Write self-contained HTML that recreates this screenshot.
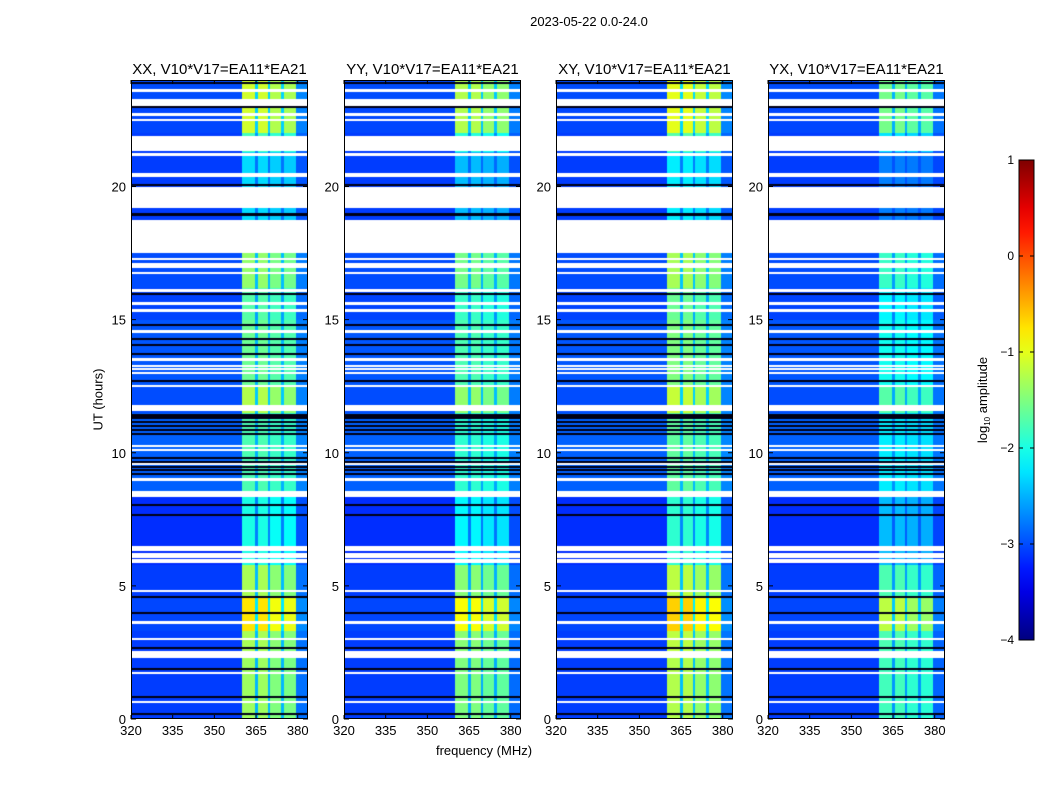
<!DOCTYPE html>
<html><head><meta charset="utf-8">
<style>
body{margin:0;background:#fff;width:1050px;height:800px;overflow:hidden;font-family:"Liberation Sans",sans-serif;}
#root{position:relative;width:1050px;height:800px;}
.t{position:absolute;color:#000;white-space:nowrap;}
canvas{position:absolute;}
</style></head>
<body><div id="root">
<div class="t" style="left:489px;top:14px;width:200px;text-align:center;font-size:13px;">2023-05-22 0.0-24.0</div>
<div class="t" style="left:48px;top:392px;width:100px;text-align:center;font-size:13px;transform:rotate(-90deg);">UT (hours)</div>
<div class="t" style="left:384px;top:743px;width:200px;text-align:center;font-size:13px;">frequency (MHz)</div>
<svg id="svg" width="1050" height="800" style="position:absolute;left:0;top:0"></svg>
</div>
<script>
// ---- data ----
const panelTitles = ["XX, V10*V17=EA11*EA21","YY, V10*V17=EA11*EA21","XY, V10*V17=EA11*EA21","YX, V10*V17=EA11*EA21"];
const panelOffsets = [0.0, -0.15, 0.1, -0.45];           // RFI level offset per polarization
const xTicks = [320,335,350,365,380];
const yTicks = [0,5,10,15,20];
const cbTicks = [1,0,-1,-2,-3,-4];
// RFI bands
const bandStarts = [360.0, 364.6, 365.7, 369.3, 370.0, 374.0, 375.0, 379.3];
const bandEnds   = [364.6, 365.7, 369.3, 370.0, 374.0, 375.0, 379.3, 384.0];
const bandWeights= [1.0,   0.35,  1.0,   0.35,  0.92,  0.35,  0.9,   0.15];
// time segments with RFI level and background level (log10 amp)
const segStarts = [0, 2.5, 3.3, 4.6, 5.8, 8.5, 11.5, 12.5, 15.0, 16.2, 17.5, 21.3, 22.0, 23.3];
const segEnds   = [2.5, 3.3, 4.6, 5.8, 8.5, 11.5, 12.5, 15.0, 16.2, 17.5, 21.3, 22.0, 23.3, 24];
const segRfi    = [-1.35,-1.3,-0.75,-1.3,-2.0,-1.75,-1.25,-1.6,-1.7,-1.4,-2.3,-1.8,-1.1,-1.1];
const segBg     = [-3.08,-3.08,-3.03,-3.08,-3.15,-2.9,-3.0,-2.95,-3.05,-3.0,-3.08,-3.08,-3.03,-3.0];
// flagged (white) time ranges in hours
const gapStarts = [23.0, 21.35, 19.2, 17.5, 11.55, 6.3, 5.85, 2.3];
const gapEnds   = [23.3, 21.9, 20.0, 18.75, 11.8, 6.5, 6.0, 2.55];
// thin white lines (hours)
const whiteLines = [23.6,22.7,22.5,21.2,20.45,20.4,17.27,17.1,17.0,16.75,16.1,15.6,15.35,14.55,13.5,13.25,13.15,13.0,12.5,10.25,10.1,9.6,9.0,8.5,8.4,6.2,6.1,4.8,3.63,3.0,1.72,0.64];
// dark (zero) lines (hours)
const blackLines = [23.9,23.0,20.07,18.95,15.95,14.8,14.27,14.05,13.7,12.7,11.4,11.3,11.15,11.0,10.85,10.7,9.8,9.65,9.45,9.35,9.2,8.05,7.65,4.57,3.97,2.66,1.87,0.82,0.19];
</script>
<script>
const svg=document.getElementById('svg'), root=document.getElementById('root');
const NS='http://www.w3.org/2000/svg';
const panelLefts=[131,344,556,768], PW=177, PT=80, PH=639, F0=320, F1=383.7;
function xs(f,l){return l+(f-F0)/(F1-F0)*PW;}
function ys(h){return PT+PH-(h/24)*PH;}
function jet(v){
  const r=Math.min(Math.max(Math.min(4*v-1.5,-4*v+4.5),0),1);
  const g=Math.min(Math.max(Math.min(4*v-0.5,-4*v+3.5),0),1);
  const b=Math.min(Math.max(Math.min(4*v+0.5,-4*v+2.5),0),1);
  return [r*255|0,g*255|0,b*255|0];
}
function norm(v){return Math.min(Math.max((v+4)/5,0),1);}
function el(tag,attrs,parent){const e=document.createElementNS(NS,tag);for(const k in attrs)e.setAttribute(k,attrs[k]);(parent||svg).appendChild(e);return e;}
function txt(s,x,y,anchor,size,parent){const e=el('text',{x:x,y:y,'text-anchor':anchor,'font-size':size,'font-family':'Liberation Sans, sans-serif'},parent);e.textContent=s;return e;}

panelLefts.forEach((L,p)=>{
  const c=document.createElement('canvas');c.width=PW;c.height=PH;
  c.style.left=L+'px';c.style.top=PT+'px';
  
  
  root.insertBefore(c,svg);
  const ctx=c.getContext('2d'), img=ctx.createImageData(PW,PH);
  for(let y=0;y<PH;y++){
    const h=(PH-y-0.5)/PH*24;
    let mode=0;
    for(let i=0;i<gapStarts.length;i++) if(h>=gapStarts[i]&&h<gapEnds[i]) mode=1;
    for(const w of whiteLines) if(Math.abs(h-w)<0.045) mode=1;
    for(const b of blackLines) if(Math.abs(h-b)<0.04) mode=2;
    let si=0; for(let i=0;i<segStarts.length;i++) if(h>=segStarts[i]&&h<segEnds[i]) si=i;
    const rfi=segRfi[si]+panelOffsets[p], bg=segBg[si];
    for(let x=0;x<PW;x++){
      const k=(y*PW+x)*4;
      let col;
      if(mode===1) col=[255,255,255];
      else if(mode===2) col=[0,0,20];
      else{
        const f=F0+(x+0.5)/PW*(F1-F0);
        let w=0; for(let i=0;i<bandStarts.length;i++) if(f>=bandStarts[i]&&f<bandEnds[i]) w=bandWeights[i];
        col=jet(norm(bg+w*(rfi-bg)));
      }
      img.data[k]=col[0];img.data[k+1]=col[1];img.data[k+2]=col[2];img.data[k+3]=255;
    }
  }
  ctx.putImageData(img,0,0);
  const g=el('g',{});
  
  
  el('rect',{x:L+0.5,y:PT+0.5,width:PW-1,height:PH-1,fill:'none',stroke:'#000','stroke-width':1},g);
  const t=txt(panelTitles[p],L+PW/2,74,'middle',15,g);
  
  
  xTicks.forEach(f=>{const x=xs(f,L);
    el('line',{x1:x,x2:x,y1:PT+PH,y2:PT+PH-4,stroke:'#000'},g);
    el('line',{x1:x,x2:x,y1:PT,y2:PT+4,stroke:'#000'},g);
    txt(String(f),x,PT+PH+16,'middle',13,g);});
  yTicks.forEach(h=>{const y=ys(h);
    el('line',{x1:L,x2:L+5,y1:y,y2:y,stroke:'#000'},g);
    el('line',{x1:L+PW,x2:L+PW-5,y1:y,y2:y,stroke:'#000'},g);
    txt(String(h),L-5,y+5,'end',13,g);});
});
const CBX=1019,CBW=15,CBT=160,CBH=480;
const defs=el('defs',{});
const lg=el('linearGradient',{id:'jetg',x1:0,y1:1,x2:0,y2:0},defs);
for(let i=0;i<=20;i++){const c=jet(i/20);el('stop',{offset:i/20,'stop-color':'rgb('+c.join(',')+')'},lg);}
const cb=el('g',{});


el('rect',{x:CBX,y:CBT,width:CBW,height:CBH,fill:'url(#jetg)',stroke:'#000'},cb);
cbTicks.forEach(v=>{const y=CBT+(1-v)/5*CBH;
  el('line',{x1:CBX,x2:CBX+4,y1:y,y2:y,stroke:'#000'},cb);
  el('line',{x1:CBX+CBW,x2:CBX+CBW-4,y1:y,y2:y,stroke:'#000'},cb);
  txt(String(v).replace('-','\u2212'),CBX-5,y+4,'end',12,cb);});
const lab=el('text',{x:0,y:0,'font-size':13,'font-family':'Liberation Sans, sans-serif','text-anchor':'middle',transform:'translate(987,400) rotate(-90)'},cb);


lab.innerHTML='log<tspan font-size="8" dy="3">10</tspan><tspan dy="-3"> amplitude</tspan>';
</script>
</body></html>
